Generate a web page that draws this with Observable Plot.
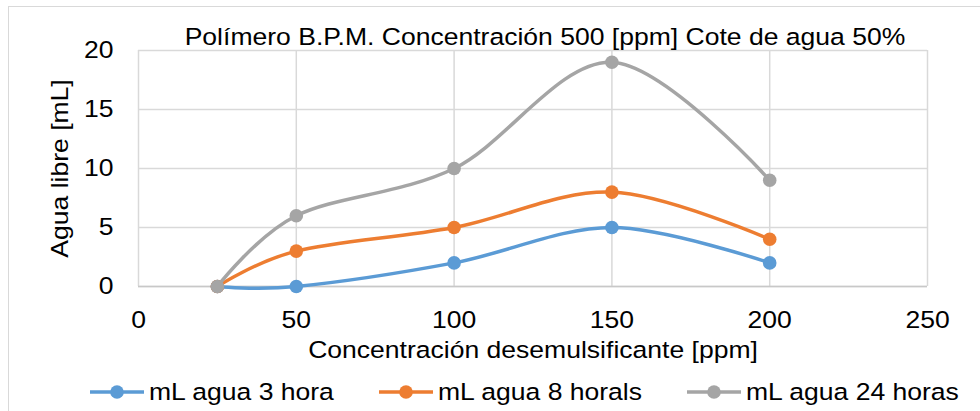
<!DOCTYPE html>
<html>
<head>
<meta charset="utf-8">
<script src="https://cdn.jsdelivr.net/npm/d3@7"></script>
<script src="https://cdn.jsdelivr.net/npm/@observablehq/plot@0.6"></script>
<style>
  html, body { margin: 0; padding: 0; background: #fff; }
  #wrap { position: relative; width: 980px; height: 411px; overflow: hidden; font-family: "Liberation Sans", Arial, sans-serif; color: #000; }
  #frame { position: absolute; left: 8px; top: 6px; width: 1100px; height: 600px; border: 1.5px solid #d9d9d9; box-sizing: border-box; }
  #title { position: absolute; left: 545px; top: 23px; font-size: 23.7px; line-height: 28px; white-space: nowrap; transform: translateX(-50%) scaleX(1.12); }
  #chart { position: absolute; left: 0; top: 0; }
  #legend { position: absolute; top: 378px; left: 0; width: 980px; height: 28px; font-size: 23.7px; }
  .item { position: absolute; top: 0; height: 28px; white-space: nowrap; }
  .item svg { position: absolute; left: 0; top: 4px; display: block; }
  .item span { position: absolute; top: 0; line-height: 28px; transform-origin: left center; transform: scaleX(1.12); }
</style>
</head>
<body>
<div id="wrap">
  <div id="frame"></div>
  <div id="chart"></div>
  <div id="title"></div>
  <div id="legend"></div>
</div>
<script>
// ---- data ----
const titleText = "Polímero B.P.M. Concentración 500 [ppm] Cote de agua 50%";
const xLabel = "Concentración desemulsificante [ppm]";
const yLabel = "Agua libre [mL]";
const concentrations = [25, 50, 100, 150, 200];
const seriesNames = ["mL agua 3 hora", "mL agua 8 horals", "mL agua 24 horas"];
const water3h = [0, 0, 2, 5, 2];
const water8h = [0, 3, 5, 8, 4];
const water24h = [0, 6, 10, 19, 9];
const seriesColors = ["#5b9bd5", "#ed7d31", "#a5a5a5"];
const xTicks = [0, 50, 100, 150, 200, 250];
const yTicks = [0, 5, 10, 15, 20];

const seriesValues = [water3h, water8h, water24h];
const tables = seriesValues.map((vals, i) =>
  concentrations.map((c, j) => ({x: c, y: vals[j], series: seriesNames[i]}))
);

document.getElementById("title").textContent = titleText;

const marks = [
  Plot.gridX(xTicks, {stroke: "#d9d9d9", strokeOpacity: 1, strokeWidth: 1.5}),
  Plot.gridY(yTicks, {stroke: "#d9d9d9", strokeOpacity: 1, strokeWidth: 1.5}),
  Plot.ruleY([0], {stroke: "#c8c8c8", strokeWidth: 1.5}),
  Plot.axisX({ticks: xTicks, tickSize: 0, tickPadding: 25, fontSize: 23.7, label: xLabel, labelAnchor: "center", labelOffset: 71, labelArrow: "none"}),
  Plot.axisY({ticks: yTicks, tickSize: 0, tickPadding: 25, fontSize: 23.7, label: yLabel, labelAnchor: "center", labelOffset: 87, labelArrow: "none"})
];
tables.forEach((t, i) => {
  marks.push(Plot.line(t, {x: "x", y: "y", stroke: seriesColors[i], strokeWidth: 3.5, curve: "cardinal"}));
  marks.push(Plot.dot(t, {x: "x", y: "y", fill: seriesColors[i], r: 6.8}));
});

const chart = Plot.plot({
  width: 980,
  height: 411,
  marginLeft: 138,
  marginRight: 53,
  marginTop: 50,
  marginBottom: 125,
  style: {fontFamily: "'Liberation Sans', Arial, sans-serif", fontSize: "23.7px", background: "transparent", color: "#000"},
  x: {domain: [0, 250]},
  y: {domain: [0, 20]},
  marks
});
document.getElementById("chart").appendChild(chart);

// widen the axis texts slightly, like the reference's stretched lettering
chart.querySelectorAll("text").forEach(t => {
  const len = t.getComputedTextLength();
  if (len > 0) {
    t.setAttribute("textLength", (len * 1.12).toFixed(2));
    t.setAttribute("lengthAdjust", "spacingAndGlyphs");
  }
});

// legend
const legendPos = [90, 379, 687];
const legend = document.getElementById("legend");
seriesNames.forEach((name, i) => {
  const item = document.createElement("div");
  item.className = "item";
  item.style.left = legendPos[i] + "px";
  item.innerHTML = `<svg width="54" height="20"><line x1="0" x2="54" y1="10" y2="10" stroke="${seriesColors[i]}" stroke-width="3.5"/><circle cx="27" cy="10" r="6.8" fill="${seriesColors[i]}"/></svg><span style="left:59px">${name}</span>`;
  legend.appendChild(item);
});
</script>
</body>
</html>
